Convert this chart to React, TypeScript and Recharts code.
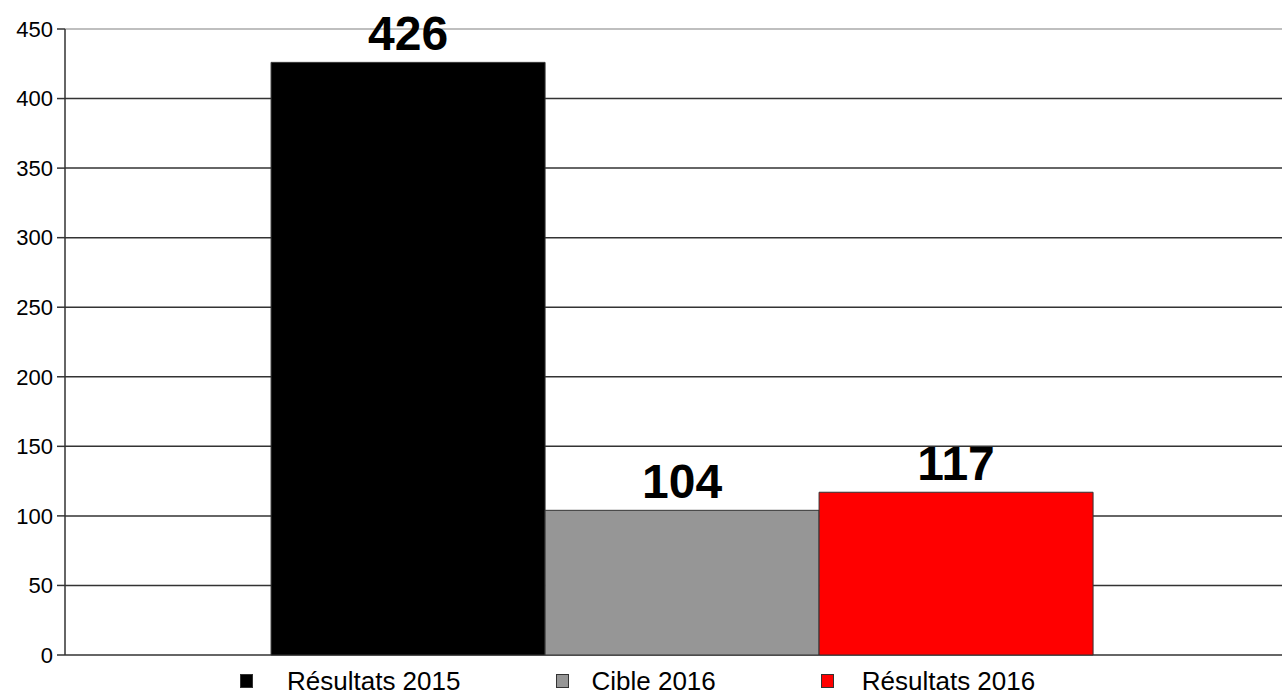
import React from 'react';
import {
    BarChart,
    Bar,
    XAxis,
    YAxis,
    CartesianGrid,
    Legend,
    LabelList,
} from 'recharts';

const CATEGORIES = [''];
const RESULTATS_2015 = [426];
const CIBLE_2016 = [104];
const RESULTATS_2016 = [117];
const Y_TICKS = [0, 50, 100, 150, 200, 250, 300, 350, 400, 450];

const SERIES = [
    { key: 'r2015', name: 'Résultats 2015', color: '#000000', values: RESULTATS_2015 },
    { key: 'c2016', name: 'Cible 2016', color: '#969696', values: CIBLE_2016 },
    { key: 'r2016', name: 'Résultats 2016', color: '#ff0000', values: RESULTATS_2016 },
];

const data = CATEGORIES.map((c, i) => {
    const row: any = { cat: c };
    SERIES.forEach(s => { row[s.key] = s.values[i]; });
    return row;
});

const FONT = '"Liberation Sans", Arial, sans-serif';
// legend spacing: [gap square->text, gap after item]
const LEGEND_GAPS = [[34, 96], [22, 105], [28, 0]];

const GridLine = (props: any) => {
    const { x1, y1, x2, y2 } = props;
    return (
        <line
            x1={x1}
            y1={y1}
            x2={x2}
            y2={y2}
            stroke={y1 < 35 ? '#aaaaaa' : '#333333'}
            strokeWidth={1.5}
        />
    );
};

const CustomLegend = () => (
    <div style={{ display: 'flex', alignItems: 'center', height: 39, paddingLeft: 240, fontFamily: FONT, fontSize: 26, lineHeight: '28px', color: '#000' }}>
        {SERIES.map((s, i) => (
            <div key={s.key} style={{ display: 'flex', alignItems: 'center', marginRight: LEGEND_GAPS[i][1], paddingTop: 12 }}>
                <span style={{ width: 11, height: 12, background: s.color, border: '1px solid #333', marginRight: LEGEND_GAPS[i][0], display: 'inline-block', flexShrink: 0 }} />
                <span style={{ whiteSpace: 'nowrap' }}>{s.name}</span>
            </div>
        ))}
    </div>
);

export default function App() {
    return (
        <div style={{ position: 'absolute', left: 0, top: 0, width: 1282, height: 694, overflow: 'hidden', background: '#fff' }}>
            <BarChart
                width={1299}
                height={694}
                data={data}
                margin={{ top: 29, right: 0, left: 0, bottom: 0 }}
                barCategoryGap="16.7%"
                barGap={0}
            >
                <CartesianGrid vertical={false} horizontal={GridLine as any} />
                <XAxis dataKey="cat" hide />
                <YAxis
                    width={65}
                    domain={[0, 450]}
                    ticks={Y_TICKS}
                    interval={0}
                    axisLine={{ stroke: '#333', strokeWidth: 1.5 }}
                    tickLine={{ stroke: '#333', strokeWidth: 1.5 }}
                    tickSize={8}
                    tickMargin={4}
                    tick={{ fill: '#000', fontSize: 22, fontFamily: FONT }}
                />
                <Legend verticalAlign="bottom" height={39} content={<CustomLegend />} wrapperStyle={{ left: 0, width: 1282 }} />
                {SERIES.map(s => (
                    <Bar
                        key={s.key}
                        dataKey={s.key}
                        name={s.name}
                        fill={s.color}
                        stroke="#333"
                        strokeWidth={1}
                        isAnimationActive={false}
                    >
                        <LabelList
                            dataKey={s.key}
                            position="top"
                            offset={12}
                            style={{ fill: '#000', fontSize: 48, fontWeight: 'bold', fontFamily: FONT }}
                        />
                    </Bar>
                ))}
            </BarChart>
        </div>
    );
}
